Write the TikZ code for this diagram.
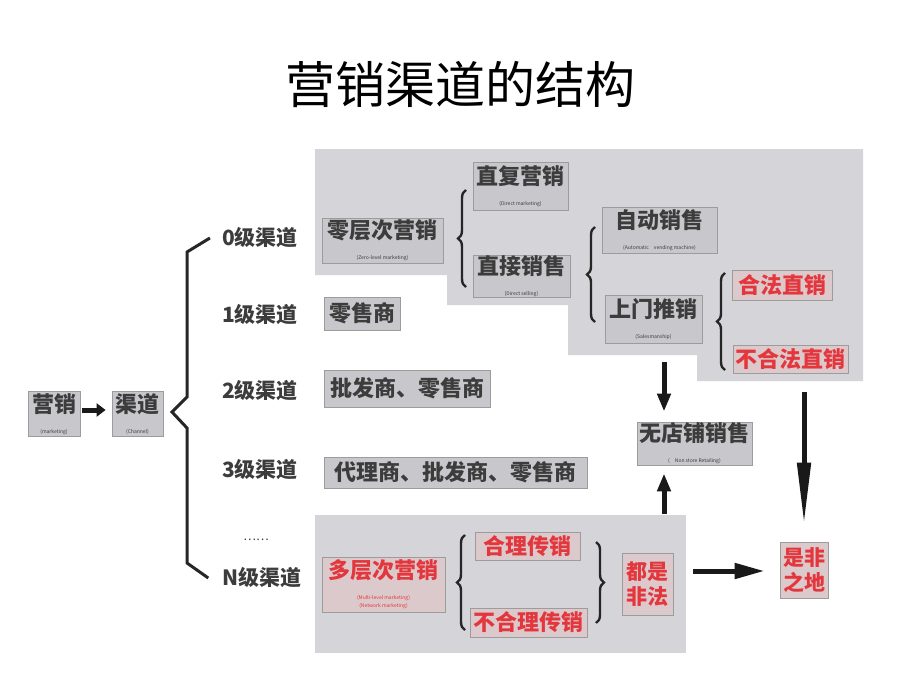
\documentclass[tikz,border=0pt]{standalone}
\usepackage{fontspec}
\setmainfont{Noto Sans CJK SC}
\usetikzlibrary{arrows.meta,decorations.pathreplacing}
\definecolor{panel}{HTML}{D4D4D9}
\definecolor{boxfill}{HTML}{C8C8CC}
\definecolor{boxline}{HTML}{9C9C9C}
\definecolor{txt}{HTML}{3C3C3C}
\definecolor{redtxt}{HTML}{E3373D}
\definecolor{redfill}{HTML}{DCC9CC}
\tikzset{
  box/.style={draw=boxline, fill=boxfill, line width=0.8pt, inner sep=0pt, align=center,
    text=txt, font=\fontsize{22}{24}\selectfont\bfseries},
  redbox/.style={box, fill=redfill, text=redtxt},
  lbl/.style={inner sep=0pt, text=txt, font=\fontsize{21}{23}\selectfont\bfseries},
  brc/.style={decorate, decoration={brace, amplitude=8pt}, line width=2.4pt, black!85},
  arr/.style={line width=5pt, black!90},
}
\newcommand{\subt}[1]{\\[-3pt]\fontsize{5}{6}\selectfont\mdseries #1}
\newcommand{\subtb}[1]{\\[-16pt]\fontsize{5}{6}\selectfont\mdseries #1}
\begin{document}
\begin{tikzpicture}[x=1pt,y=-1pt]
\useasboundingbox[fill=white] (0,0) rectangle (920,690);
% title
\node[inner sep=0pt, font=\fontsize{50}{52}\selectfont] (title) at (460,84) {营销渠道的结构};
% panels
\fill[panel] (315,149) -- (863,149) -- (863,381) -- (697,381) -- (697,355) -- (568,355)
  -- (568,305) -- (447,305) -- (447,275) -- (315,275) -- cycle;
\fill[panel] (315,515) rectangle (686,653);
% left
\node[box, minimum width=52pt, minimum height=45pt] (mk) at (54,414) {营销\subt{(marketing)}};
\node[box, minimum width=51pt, minimum height=45pt] (ch) at (137.5,414) {渠道\subt{(Channel)}};
% channel labels
\node[lbl] (c0) at (260,238) {0级渠道};
\node[lbl] (c1) at (260,315) {1级渠道};
\node[lbl] (c2) at (260,391) {2级渠道};
\node[lbl] (c3) at (260,470) {3级渠道};
\node[lbl, font=\fontsize{12}{12}\selectfont] (dots) at (256,540) {……};
\node[lbl] (cN) at (262,578) {N级渠道};
% boxes
\node[box, minimum width=121pt, minimum height=45pt] (z0) at (382.5,240.5) {零层次营销\subt{(Zero-level marketing)}};
\node[box, minimum width=76pt, minimum height=33pt] (r1) at (362,313.5) {零售商};
\node[box, minimum width=166pt, minimum height=37pt] (r2) at (407,388.5) {批发商、零售商};
\node[box, minimum width=263pt, minimum height=31pt] (r3) at (455.5,472.5) {代理商、批发商、零售商};
\node[redbox, minimum width=123pt, minimum height=55pt] (ml) at (383.5,584.5) {多层次营销\subt{(Multi-level marketing)}\subtb{(Network marketing)}};
\node[box, minimum width=95pt, minimum height=48pt] (dm) at (520.5,186) {直复营销\subt{(Direct marketing)}};
\node[box, minimum width=97pt, minimum height=42pt] (ds) at (521.5,276) {直接销售\subt{(Direct selling)}};
\node[box, minimum width=115pt, minimum height=46pt] (av) at (659.5,230) {自动销售\subt{(Automatic\quad vending machine)}};
\node[box, minimum width=97pt, minimum height=48pt] (sm) at (653.5,319) {上门推销\subt{(Salesmanship)}};
\node[redbox, minimum width=100pt, minimum height=30pt] (ld) at (782,285) {合法直销};
\node[redbox, minimum width=115pt, minimum height=28pt] (id) at (790.5,359) {不合法直销};
\node[box, minimum width=115pt, minimum height=43pt] (ns) at (694.5,443.5) {无店铺销售\subt{(\quad Non store Retailing)}};
\node[redbox, minimum width=105pt, minimum height=28pt] (hl) at (527.5,546) {合理传销};
\node[redbox, minimum width=117pt, minimum height=29pt] (uh) at (528.5,622.5) {不合理传销};
\node[redbox, minimum width=51pt, minimum height=62pt, font=\fontsize{21}{25}\selectfont\bfseries] (ai) at (647.5,584) {都是\\非法};
\node[redbox, minimum width=48pt, minimum height=56pt, font=\fontsize{21}{25}\selectfont\bfseries] (sf) at (804,570) {是非\\之地};
% main brace
\draw[line width=3pt, black!85, line join=miter] ([xshift=-12pt]c0.west) -- (187,252) -- (187,397) -- (172,412)
  -- (187,428) -- (187,563) -- ([xshift=-14pt]cN.west);
% arrows
\draw[arr, -{Triangle[width=13pt,length=9pt]}] ([shift={(2pt,4pt)}]mk.east) -- ([shift={(-6pt,4pt)}]ch.west);
\coordinate (a1) at (664,362);
\draw[arr, -{Triangle[width=13pt,length=18pt]}] (a1) -- ([yshift=10pt]a1 |- ns.north);
\coordinate (a2) at (664,514);
\draw[arr, -{Triangle[width=13pt,length=18pt]}] (a2) -- ([yshift=-8pt]a2 |- ns.south);
\coordinate (a3) at (804,392);
\draw[arr, -{Triangle[width=13pt,length=62pt]}] (a3) -- ([yshift=17pt]sf.north);
\coordinate (a4) at (693,571);
\draw[arr, -{Triangle[width=15pt,length=30pt]}] (a4) -- ([xshift=-15pt]sf.west |- a4);
% braces
\draw[brc] (466,287) -- (466,190);
\draw[brc] (595,322) -- (595,227);
\draw[brc] (725,370) -- (725,273);
\draw[brc] (465,630) -- (465,535);
\draw[brc] (596,542) -- (596,623);
\end{tikzpicture}
\end{document}
